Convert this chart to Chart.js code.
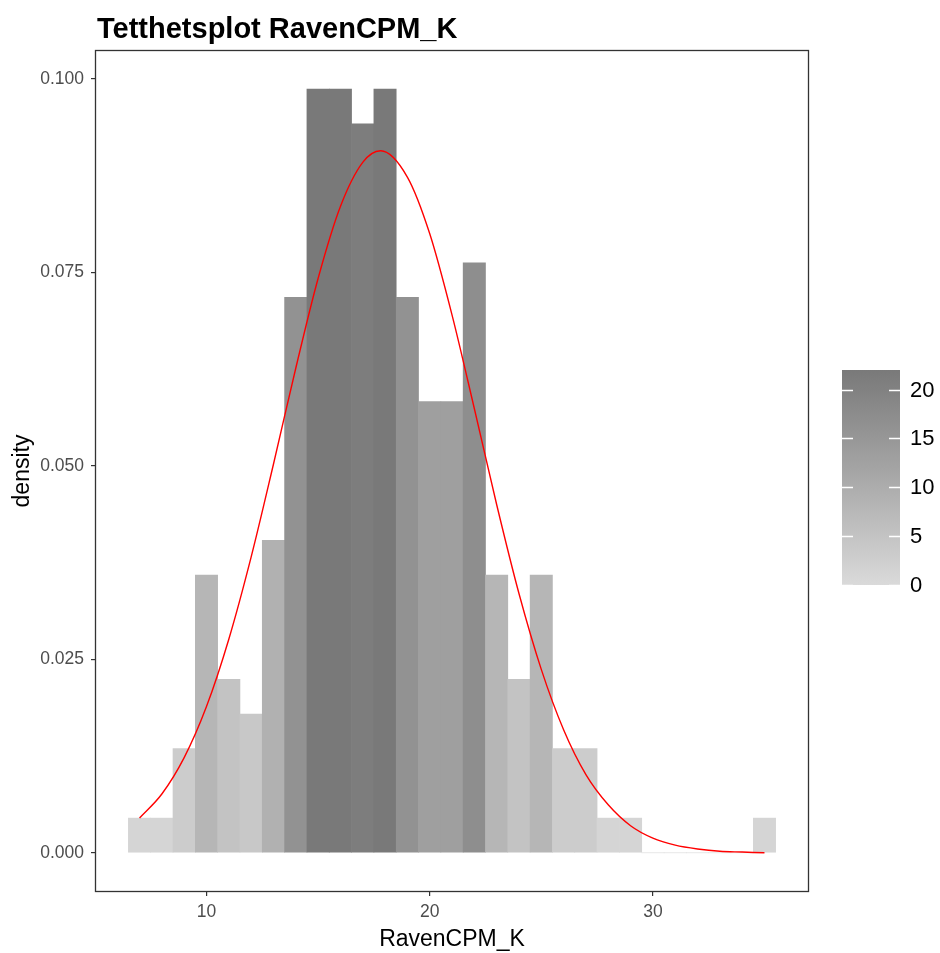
<!DOCTYPE html>
<html>
<head>
<meta charset="utf-8">
<script src="https://cdn.jsdelivr.net/npm/chart.js@4.4.1/dist/chart.umd.min.js"></script>
<style>
  html, body { margin: 0; padding: 0; background: #fff; }
  #wrap { width: 940px; height: 953px; }
</style>
</head>
<body>
<div id="wrap"><canvas id="densityChart" width="940" height="953"></canvas></div>
<script>
// histogram bins (width 1)
const binCenters = [7, 8, 9, 10, 11, 12, 13, 14, 15, 16, 17, 18, 19, 20, 21, 22, 23, 24, 25, 26, 27, 28, 29, 30, 31, 32, 33, 34, 35];
const binCounts  = [1, 1, 3, 8, 5, 4, 9, 16, 22, 22, 21, 22, 16, 13, 13, 17, 8, 5, 8, 3, 3, 1, 1, 0, 0, 0, 0, 0, 1];

// red normal curve, read at these x positions
const curveX = [7, 8, 9, 10, 11, 12, 13, 14, 15, 16, 17, 17.8, 19, 20, 21, 22, 23, 24, 25, 26, 27, 28, 29, 30, 31, 32, 33, 34, 35];
const curveY = [0.0045, 0.0076, 0.0123, 0.0189, 0.0276, 0.0382, 0.0502, 0.0626, 0.0742, 0.0835, 0.0892, 0.0907, 0.0873, 0.0800, 0.0695, 0.0574, 0.0450, 0.0335, 0.0237, 0.0159, 0.0101, 0.0062, 0.0035, 0.0019, 0.0010, 0.0005, 0.0002, 0.0001, 0.0000];

const xTicks = [10, 20, 30];
const yTicks = [0, 0.025, 0.05, 0.075, 0.1];
const legendTicks = [0, 5, 10, 15, 20];

const FONT = "'Liberation Sans', Arial, sans-serif";

const total = binCounts.reduce((a, b) => a + b, 0);
const countMax = Math.max(...binCounts);
const densities = binCounts.map(c => c / total);

// ggplot style expansion of 5% on both axes
const xLo = binCenters[0] - 0.5, xHi = binCenters[binCenters.length - 1] + 0.5;
const yHi = Math.max(...densities);
const xPad = (xHi - xLo) * 0.05, yPad = yHi * 0.05;

// grey gradient interpolated on lightness, like scale_fill_gradient
function toL(v) {
    let c = v / 255;
    c = c <= 0.04045 ? c / 12.92 : Math.pow((c + 0.055) / 1.055, 2.4);
    return c > 0.008856 ? 116 * Math.cbrt(c) - 16 : 903.3 * c;
}
const lowL = toL(218), highL = toL(121);
function greyFor(count) {
    const L = lowL + (highL - lowL) * (count / countMax);
    const Y = L > 8 ? Math.pow((L + 16) / 116, 3) : L / 903.3;
    const c = Y <= 0.0031308 ? 12.92 * Y : 1.055 * Math.pow(Y, 1 / 2.4) - 0.055;
    const v = Math.round(Math.min(1, Math.max(0, c)) * 255);
    return 'rgb(' + v + ',' + v + ',' + v + ')';
}

const extras = {
    id: 'extras',
    afterDraw(chart) {
        const ctx = chart.ctx;
        const a = chart.chartArea;
        ctx.save();
        // panel border
        ctx.strokeStyle = '#333333';
        ctx.lineWidth = 1.3;
        ctx.strokeRect(a.left - 0.5, a.top - 0.5, a.right - a.left + 1, a.bottom - a.top + 1);

        // title
        ctx.fillStyle = '#000';
        ctx.font = 'bold 29px ' + FONT;
        ctx.textAlign = 'left';
        ctx.textBaseline = 'alphabetic';
        ctx.fillText('Tetthetsplot RavenCPM_K', 97, 38);

        // colour bar legend
        const bx = 842, bw = 58, bTop = 370, bBot = 585;
        const yOf = v => bBot - (bBot - bTop) * v / countMax;
        const grad = ctx.createLinearGradient(0, bBot, 0, bTop);
        for (let i = 0; i <= 20; i++) grad.addColorStop(i / 20, greyFor(countMax * i / 20));
        ctx.fillStyle = grad;
        ctx.fillRect(bx, bTop, bw, bBot - bTop);

        ctx.strokeStyle = '#ffffff';
        ctx.lineWidth = 1.5;
        ctx.font = '22px ' + FONT;
        ctx.textBaseline = 'middle';
        legendTicks.forEach(v => {
            const y = Math.round(yOf(v)) + 0.5;
            ctx.beginPath();
            ctx.moveTo(bx, y); ctx.lineTo(bx + 11, y);
            ctx.moveTo(bx + bw - 11, y); ctx.lineTo(bx + bw, y);
            ctx.stroke();
            ctx.fillStyle = '#000';
            ctx.fillText(String(v), 910, yOf(v) + 1);
        });
        ctx.restore();
    }
};

const ctx = document.getElementById('densityChart').getContext('2d');
new Chart(ctx, {
    type: 'bar',
    data: {
        datasets: [{
            type: 'line',
            data: curveX.map((x, i) => ({ x: x, y: curveY[i] })),
            borderColor: '#FF0000',
            borderWidth: 1.4,
            pointRadius: 0,
            cubicInterpolationMode: 'monotone',
            order: 0
        }, {
            type: 'bar',
            data: binCenters.map((x, i) => ({ x: x, y: densities[i] })),
            backgroundColor: binCounts.map(greyFor),
            borderWidth: 0,
            barPercentage: 1,
            categoryPercentage: 1,
            order: 1
        }]
    },
    options: {
        responsive: false,
        animation: false,
        devicePixelRatio: 1,
        layout: { padding: { top: 51, right: 132, left: 0, bottom: 0 } },
        plugins: {
            legend: { display: false },
            tooltip: { enabled: false }
        },
        scales: {
            x: {
                type: 'linear',
                offset: false,
                min: xLo - xPad,
                max: xHi + xPad,
                afterBuildTicks: s => { s.ticks = xTicks.map(v => ({ value: v })); },
                afterFit: s => { s.height = 62; },
                grid: { display: true, offset: false, drawOnChartArea: false, drawTicks: true, tickLength: 5, color: '#333333', lineWidth: 1.2 },
                border: { display: false },
                ticks: { autoSkip: false, maxRotation: 0, padding: 6, color: '#4D4D4D', font: { family: FONT, size: 17.5 } },
                title: { display: true, text: 'RavenCPM_K', color: '#000', font: { family: FONT, size: 23 }, padding: { top: 0, bottom: 0 } }
            },
            y: {
                type: 'linear',
                min: -yPad,
                max: yHi + yPad,
                afterBuildTicks: s => { s.ticks = yTicks.map(v => ({ value: v })); },
                afterFit: s => { s.width = 96; },
                grid: { display: true, drawOnChartArea: false, drawTicks: true, tickLength: 5, color: '#333333', lineWidth: 1.2 },
                border: { display: false },
                ticks: { padding: 7, color: '#4D4D4D', font: { family: FONT, size: 17.5 }, callback: v => v.toFixed(3) },
                title: { display: true, text: 'density', color: '#000', font: { family: FONT, size: 23 }, padding: { top: 9, bottom: 0 } }
            }
        }
    },
    plugins: [extras]
});
</script>
</body>
</html>
